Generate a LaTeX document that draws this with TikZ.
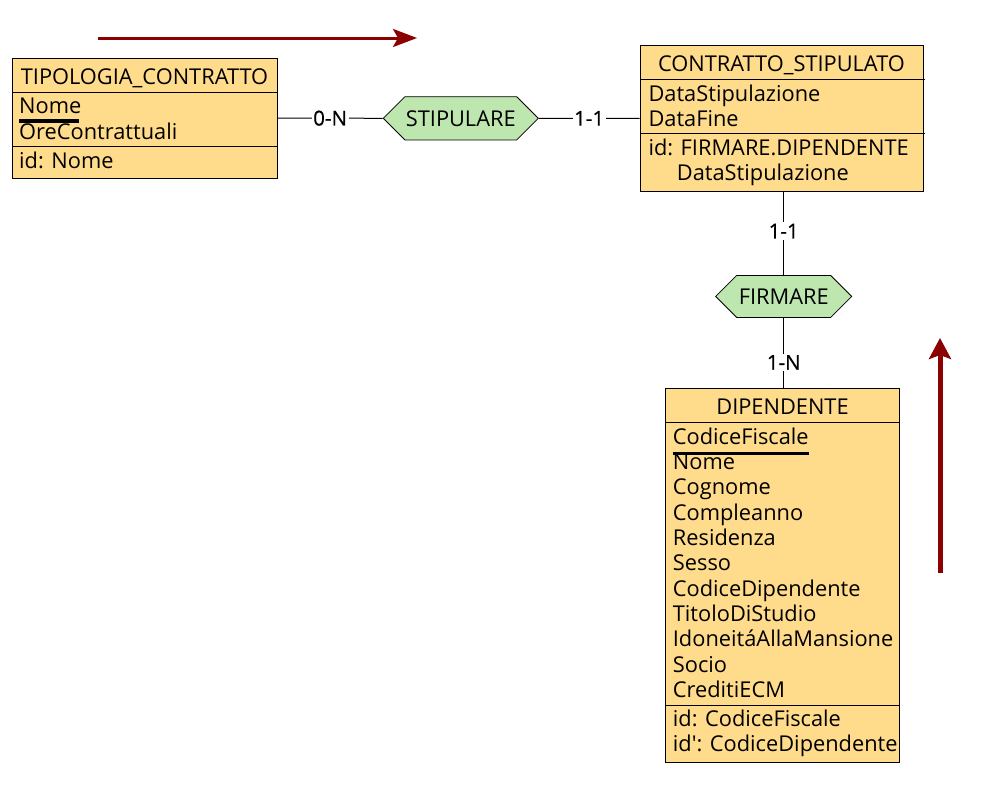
\documentclass[tikz,border=0pt]{standalone}
\usepackage{fontspec}
\setmainfont{Open Sans}
\newfontfamily\cardfam[FakeBold=0.6]{Open Sans}
\newfontfamily\plainq[Ligatures=TeXOff]{Open Sans}
\usetikzlibrary{shapes.symbols,arrows.meta}
\definecolor{entfill}{RGB}{255,219,140}
\definecolor{relfill}{RGB}{190,231,176}
\definecolor{arrred}{RGB}{139,0,0}
\newcommand{\txtfont}{\fontsize{21.8}{25}\selectfont}
\newcommand{\cardfont}{\cardfam\fontsize{20.5}{24}\selectfont}
\begin{document}
\begin{tikzpicture}[x=1pt,y=-1pt,
 entity/.style={draw=black, line width=1pt, fill=entfill, rectangle, inner sep=0pt},
 relation/.style={draw=black, line width=0.8pt, fill=relfill, signal, signal to=west and east, signal pointer angle=90, inner sep=0pt, font=\txtfont},
 attr/.style={anchor=base west, inner sep=0pt, font=\txtfont},
 etitle/.style={anchor=base, inner sep=0pt, font=\txtfont},
 sepline/.style={line width=1pt},
 keybar/.style={line width=3.5pt},
 link/.style={line width=1pt},
 card/.style={fill=white, inner sep=1.5pt, font=\cardfont},
 flow/.style={draw=arrred, line width=3pt, -{Stealth[length=24pt,width=18pt,inset=5pt]}},
 flowthick/.style={draw=arrred, line width=5pt, -{Stealth[length=21pt,width=22pt,inset=4pt]}}
]
\fill[white] (0,0) rectangle (1004,809);
\useasboundingbox (0,0) rectangle (1004,809);

% ---------- TIPOLOGIA_CONTRATTO ----------
\node[entity, minimum width=265pt, minimum height=120pt] (tipo) at (144.5,118) {};
\draw[sepline] (12,92.3) -- (277,92.3);
\draw[sepline] (12,146.7) -- (277,146.7);
\node[etitle] (tipoT) at (144.5,84.3) {TIPOLOGIA\_CONTRATTO};
\node[attr] (t1) at (19,113) {Nome};
\node[attr] (t2) at (19,139.3) {OreContrattuali};
\node[attr] (t3) at (19,168.3) {id: Nome};
\draw[keybar] ([yshift=-8pt]t1.base west) -- ([yshift=-8pt,xshift=-3pt]t1.base east);

% ---------- CONTRATTO_STIPULATO ----------
\node[entity, minimum width=283pt, minimum height=146.7pt] (contr) at (781.5,118.35) {};
\draw[sepline] (640,79.3) -- (925,79.3);
\draw[sepline] (640,133.3) -- (925,133.3);
\node[etitle] (contrT) at (781.5,71.7) {CONTRATTO\_STIPULATO};
\node[attr] (c1) at (648.3,101.7) {DataStipulazione};
\node[attr] (c2) at (648.3,126.7) {DataFine};
\node[attr] (c3) at (648.3,155) {id: FIRMARE.DIPENDENTE};
\node[attr] (c4) at (676.7,180) {DataStipulazione};

% ---------- DIPENDENTE ----------
\node[entity, minimum width=233.6pt, minimum height=374.3pt] (dip) at (782.5,575.15) {};
\draw[sepline] (665.7,422.7) -- (899.3,422.7);
\draw[sepline] (665.7,705) -- (899.3,705);
\node[etitle] (dipT) at (782.5,414.3) {DIPENDENTE};
\foreach \t [count=\i] in {CodiceFiscale,Nome,Cognome,Compleanno,Residenza,Sesso,CodiceDipendente,TitoloDiStudio,IdoneitáAllaMansione,Socio,CreditiECM}
  \node[attr] (d\i) at (672.7,{444.3+25.3*(\i-1)}) {\t};
\node[attr] (d12) at (672.7,726.7) {id: CodiceFiscale};
\node[attr] (d13) at (672.7,751.7) {\plainq id': CodiceDipendente};
\draw[keybar] ([yshift=-9pt]d1.base west) -- ([yshift=-9pt]d1.base east);

% ---------- relationships ----------
\node[relation, minimum width=155pt, minimum height=43.3pt] (stip) at (460.8,118.3) {STIPULARE};
\node[relation, minimum width=136pt, minimum height=42pt] (firm) at (783.7,296.4) {FIRMARE};

% ---------- connectors ----------
\draw[link] (tipo.east) -- node[card]{0-N} (stip.west);
\draw[link] (stip.east) -- node[card]{1-1} (contr.west);
\draw[link] (firm.north |- contr.south) -- node[card,pos=0.47]{1-1} (firm.north);
\draw[link] (firm.south) -- node[card,pos=0.64]{1-N} (firm.south |- dip.north);

% ---------- red arrows ----------
\coordinate (a1s) at (98,38);
\coordinate (a1e) at (417,38);
\draw[flow] (a1s) -- (a1e);
\coordinate (a2s) at (940,573);
\coordinate (a2e) at (940,338);
\draw[flowthick] (a2s) -- (a2e);
\end{tikzpicture}
\end{document}
